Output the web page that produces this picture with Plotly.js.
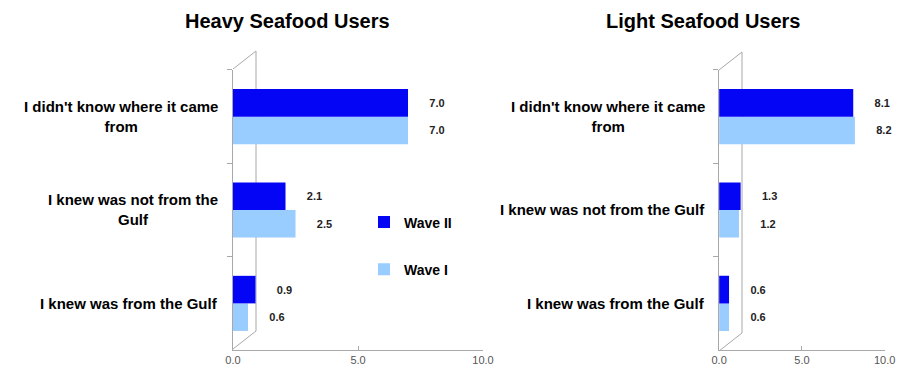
<!DOCTYPE html>
<html>
<head>
<meta charset="utf-8">
<script src="https://cdn.plot.ly/plotly-3.0.1.min.js"></script>
<style>html,body{margin:0;padding:0;background:#fff;}#chart{width:900px;height:374px;}</style>
</head>
<body>
<div id="chart"></div>
<script>
// Categories listed bottom to top
var categoriesHeavy = ["I knew was from the Gulf", "I knew was not from the<br>Gulf", "I didn't know where it came<br>from"];
var categoriesLight = ["I knew was from the Gulf", "I knew was not from the Gulf", "I didn't know where it came<br>from"];
var heavyWave1 = [0.6, 2.5, 7.0];
var heavyWave2 = [0.9, 2.1, 7.0];
var lightWave1 = [0.6, 1.2, 8.2];
var lightWave2 = [0.6, 1.3, 8.1];
var tickVals = [0, 5, 10];
var tickText = ["0.0", "5.0", "10.0"];

var FONT = "Liberation Sans, Arial, sans-serif";
var DARK = "#0505F5";
var LIGHT = "#99CCFF";
var AXIS = "#A8A8A8";

function barTrace(x, y, name, color, xa, ya, showlegend, rank, group) {
  return {
    type: "bar", orientation: "h", x: x, y: y, name: name,
    xaxis: xa, yaxis: ya, showlegend: showlegend, legendrank: rank, legendgroup: group,
    marker: {color: color, line: {width: 0}},
    text: x.map(function (v) { return v.toFixed(1); }),
    texttemplate: "      %{text}",
    textposition: "outside", cliponaxis: false,
    textfont: {family: FONT, size: 11, color: "#222", weight: "bold"},
    hoverinfo: "skip"
  };
}

var data = [
  barTrace(heavyWave1, categoriesHeavy, "Wave I", LIGHT, "x", "y", true, 2, "w1"),
  barTrace(heavyWave2, categoriesHeavy, "Wave II", DARK, "x", "y", true, 1, "w2"),
  barTrace(lightWave1, categoriesLight, "Wave I", LIGHT, "x2", "y2", false, 2, "w1"),
  barTrace(lightWave2, categoriesLight, "Wave II", DARK, "x2", "y2", false, 1, "w2")
];

function xAxis(domain, anchor) {
  return {
    domain: domain, anchor: anchor, range: [0, 10], tickvals: tickVals, ticktext: tickText,
    showgrid: false, zeroline: false, showline: true, linecolor: AXIS, linewidth: 1,
    ticks: "inside", ticklen: 4, tickcolor: AXIS,
    tickfont: {family: FONT, size: 11, color: "#555"}, fixedrange: true
  };
}
function yAxis(anchor) {
  return {
    domain: [0.064, 0.813], anchor: anchor, type: "category",
    showgrid: false, zeroline: false, showline: true, linecolor: AXIS, linewidth: 1,
    ticks: "outside", tickson: "boundaries", ticklen: 5, tickcolor: AXIS,
    showticklabels: false, fixedrange: true
  };
}

var annotations = [
  {text: "Heavy Seafood Users", x: 287 / 900, y: 1 - 21 / 374, xref: "paper", yref: "paper",
   showarrow: false, xanchor: "center", yanchor: "middle",
   font: {family: FONT, size: 20, color: "#000", weight: "bold"}},
  {text: "Light Seafood Users", x: 703 / 900, y: 1 - 21 / 374, xref: "paper", yref: "paper",
   showarrow: false, xanchor: "center", yanchor: "middle",
   font: {family: FONT, size: 20, color: "#000", weight: "bold"}}
];
categoriesHeavy.forEach(function (c) {
  annotations.push({text: c, x: 220 / 900, xref: "paper", y: c, yref: "y", showarrow: false,
    xanchor: "right", yanchor: "middle", align: "center",
    font: {family: FONT, size: 15, color: "#000", weight: "bold"}});
});
categoriesLight.forEach(function (c) {
  annotations.push({text: c, x: 707 / 900, xref: "paper", y: c, yref: "y2", showarrow: false,
    xanchor: "right", yanchor: "middle", align: "center",
    font: {family: FONT, size: 15, color: "#000", weight: "bold"}});
});

// 3D back-wall decoration (paper coordinates)
function wall(x0, yb, yt, dx, dy) {
  var P = function (px, py) { return [px / 900, 1 - py / 374]; };
  var l = {color: AXIS, width: 1};
  var a = P(x0 + dx, yt - dy), b = P(x0 + dx, yb - dy), c = P(x0, yt), d = P(x0, yb);
  return [
    {type: "line", xref: "paper", yref: "paper", x0: a[0], y0: a[1], x1: b[0], y1: b[1], line: l, layer: "below"},
    {type: "line", xref: "paper", yref: "paper", x0: c[0], y0: c[1], x1: a[0], y1: a[1], line: l, layer: "below"},
    {type: "line", xref: "paper", yref: "paper", x0: d[0], y0: d[1], x1: b[0], y1: b[1], line: l, layer: "below"}
  ];
}
var shapes = wall(233, 349, 69, 23, 18).concat(wall(719, 351, 70, 23, 18));

var layout = {
  width: 900, height: 374,
  margin: {l: 0, r: 0, t: 0, b: 0},
  paper_bgcolor: "#fff", plot_bgcolor: "rgba(0,0,0,0)",
  barmode: "group", bargap: 0.41, bargroupgap: 0,
  font: {family: FONT},
  xaxis: xAxis([0.2589, 0.5367], "y"),
  yaxis: yAxis("x"),
  xaxis2: xAxis([0.799, 0.983], "y2"),
  yaxis2: yAxis("x2"),
  showlegend: true,
  legend: {
    x: 364 / 900, y: 1 - 246 / 374, xanchor: "left", yanchor: "middle",
    traceorder: "grouped", itemgap: 0, tracegroupgap: 26,
    font: {family: FONT, size: 14, color: "#000", weight: "bold"},
    itemwidth: 30, bgcolor: "rgba(0,0,0,0)"
  },
  shapes: shapes,
  annotations: annotations
};

Plotly.newPlot("chart", data, layout, {displayModeBar: false, staticPlot: true});
</script>
</body>
</html>
